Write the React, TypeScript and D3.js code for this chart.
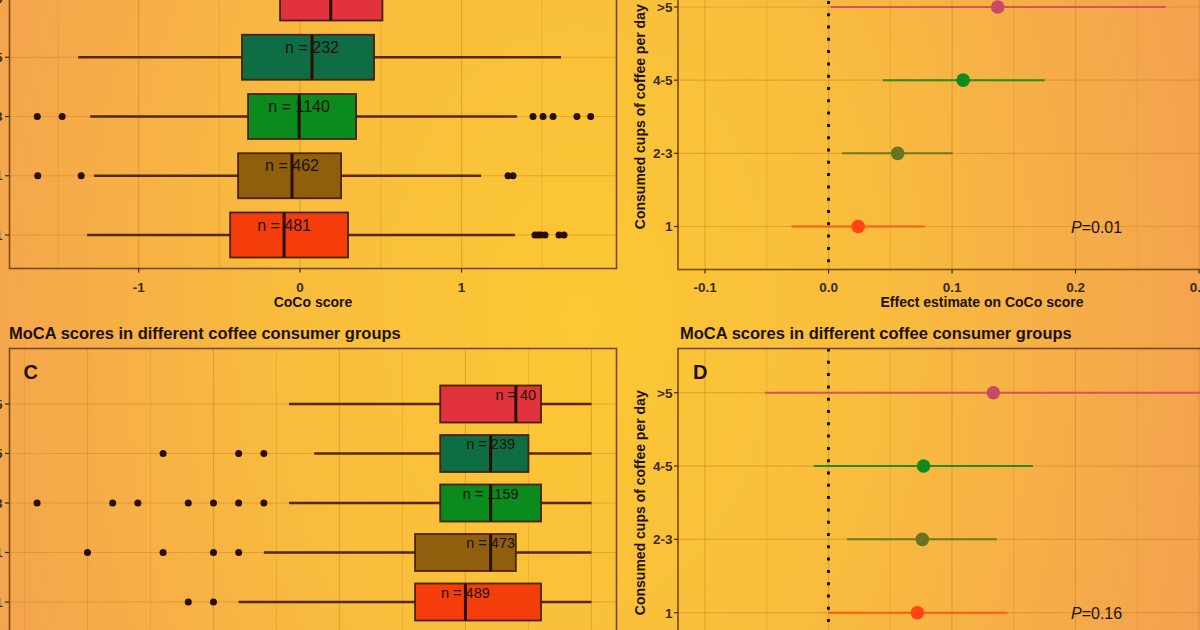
import React from "react";
import * as d3 from "d3";

const W = 1200;
const H = 630;

// ---------- Box plot data (panels A and C) ----------
const boxCategories = [">5", "4-5", "2-3", "1", "<1"];

const cocoN = [40, 232, 1140, 462, 481];
const cocoQ1 = [-0.124, -0.36, -0.322, -0.384, -0.433];
const cocoMedian = [0.19, 0.074, -0.006, -0.05, -0.099];
const cocoQ3 = [0.51, 0.458, 0.347, 0.254, 0.297];
const cocoWhiskerLo = [-1.1, -1.375, -1.3, -1.276, -1.319];
const cocoWhiskerHi = [1.4, 1.616, 1.344, 1.121, 1.331];
const cocoOutliers = [
  [],
  [],
  [-1.628, -1.474, 1.443, 1.505, 1.567, 1.715, 1.8],
  [-1.625, -1.356, 1.288, 1.319],
  [1.455, 1.474, 1.492, 1.517, 1.604, 1.635],
];
const cocoTicks = [-1, 0, 1];

const mocaN = [40, 239, 1159, 473, 489];
const mocaQ1 = [24, 24, 24, 23, 23];
const mocaMedian = [27, 26, 26, 26, 25];
const mocaQ3 = [28, 27.5, 28, 27, 28];
const mocaWhiskerLo = [18, 19, 18, 17, 16];
const mocaWhiskerHi = [30, 30, 30, 30, 30];
const mocaOutliers = [
  [],
  [13, 16, 17],
  [8, 11, 12, 14, 15, 16, 17],
  [10, 13, 15, 16],
  [14, 15],
];
const mocaTicks = [10, 15, 20, 25, 30];

const boxFills = ["#e2323e", "#0f6d45", "#0b8a1d", "#8f5f0e", "#f43d0a"];

// ---------- Forest plot data (panels B and D) ----------
const forestCategories = [">5", "4-5", "2-3", "1"];

const cocoEffect = [0.137, 0.109, 0.056, 0.024];
const cocoLower = [0.0016, 0.044, 0.011, -0.03];
const cocoUpper = [0.273, 0.175, 0.1005, 0.078];
const cocoEffectTicks = [-0.1, 0, 0.1, 0.2, 0.3];
const cocoP = "0.01";

const mocaEffect = [0.267, 0.154, 0.152, 0.144];
const mocaLower = [-0.103, -0.024, 0.03, 0.0];
const mocaUpper = [0.7, 0.331, 0.273, 0.29];
const mocaEffectTicks = [-0.2, 0, 0.2, 0.4, 0.6];
const mocaP = "0.16";

const pointColors = ["#c94868", "#0d8c1c", "#6a7322", "#ff4512"];
const lineColors = ["#d4545c", "#2a8c1e", "#6e7a22", "#ff5a14"];

const FONT = "'Liberation Sans', Arial, Helvetica, sans-serif";
const GRID = "#c98a20";
const BORDER = "#7a4a10";
const AXIS_TEXT = "#3a2c14";
const DARK = "#1c1208";

const hyphen = (s: string) => s.replace("\u2212", "-");

function minorOf(major: number[], domain: number[]) {
  const step = major[1] - major[0];
  const out: number[] = [];
  const lo = Math.min(domain[0], domain[1]);
  const hi = Math.max(domain[0], domain[1]);
  for (let v = major[0] - step / 2; v <= hi; v += step) {
    if (v >= lo) out.push(v);
  }
  return out;
}

type BoxProps = {
  x: d3.ScaleLinear<number, number>;
  y: d3.ScalePoint<string>;
  rect: [number, number, number, number];
  q1: number[];
  med: number[];
  q3: number[];
  lo: number[];
  hi: number[];
  outliers: number[][];
  n: number[];
  ticks: number[];
  halfH: number;
  nSize: number;
  xLabel?: string;
  tag?: string;
};

function BoxPanel(p: BoxProps) {
  const [x0, y0, x1, y1] = p.rect;
  const minor = minorOf(p.ticks, p.x.domain());
  const fmt = d3.format("d");
  return (
    <g>
      {minor.map((v, i) => (
        <line key={"mn" + i} x1={p.x(v)} x2={p.x(v)} y1={y0} y2={y1} stroke={GRID} strokeOpacity={0.3} strokeWidth={1} />
      ))}
      {p.ticks.map((v, i) => (
        <line key={"mj" + i} x1={p.x(v)} x2={p.x(v)} y1={y0} y2={y1} stroke={GRID} strokeOpacity={0.5} strokeWidth={1.2} />
      ))}
      {boxCategories.map((c, i) => (
        <line key={"hg" + i} x1={x0} x2={x1} y1={p.y(c)} y2={p.y(c)} stroke={GRID} strokeOpacity={0.5} strokeWidth={1.2} />
      ))}
      {boxCategories.map((c, i) => {
        const cy = p.y(c) as number;
        return (
          <g key={"b" + i}>
            <line x1={p.x(p.lo[i])} x2={p.x(p.hi[i])} y1={cy} y2={cy} stroke="#552600" strokeWidth={2.4} />
            <rect
              x={p.x(p.q1[i])}
              y={cy - p.halfH}
              width={p.x(p.q3[i]) - p.x(p.q1[i])}
              height={p.halfH * 2}
              fill={boxFills[i]}
              stroke="#4a2200"
              strokeWidth={1.8}
            />
            <line x1={p.x(p.med[i])} x2={p.x(p.med[i])} y1={cy - p.halfH} y2={cy + p.halfH} stroke="#2a0e00" strokeWidth={3} />
            {p.outliers[i].map((o, j) => (
              <circle key={j} cx={p.x(o)} cy={cy} r={3.5} fill="#2a0c00" />
            ))}
            <text
              x={p.x(p.med[i])}
              y={cy - 4.5}
              textAnchor="middle"
              fontFamily={FONT}
              fontSize={p.nSize}
              fill={DARK}
            >
              {"n = " + p.n[i]}
            </text>
          </g>
        );
      })}
      <rect x={x0} y={y0} width={x1 - x0} height={y1 - y0} fill="none" stroke={BORDER} strokeWidth={1.6} />
      {boxCategories.map((c, i) => (
        <g key={"yt" + i}>
          <line x1={x0 - 4.5} x2={x0} y1={p.y(c)} y2={p.y(c)} stroke={AXIS_TEXT} strokeWidth={1.2} />
          <text x={x0 - 7} y={(p.y(c) as number) + 4.5} textAnchor="end" fontFamily={FONT} fontWeight="bold" fontSize={13.5} fill={AXIS_TEXT}>
            {c}
          </text>
        </g>
      ))}
      {p.ticks.map((v, i) => (
        <g key={"xt" + i}>
          <line x1={p.x(v)} x2={p.x(v)} y1={y1} y2={y1 + 4} stroke={AXIS_TEXT} strokeWidth={1.2} />
          <text x={p.x(v)} y={y1 + 23} textAnchor="middle" fontFamily={FONT} fontWeight="bold" fontSize={13.5} fill={AXIS_TEXT}>
            {hyphen(fmt(v))}
          </text>
        </g>
      ))}
      {p.xLabel && (
        <text x={(x0 + x1) / 2} y={y1 + 38.5} textAnchor="middle" fontFamily={FONT} fontWeight="bold" fontSize={14} fill={DARK}>
          {p.xLabel}
        </text>
      )}
      {p.tag && (
        <text x={x0 + 14} y={y0 + 30} fontFamily={FONT} fontWeight="bold" fontSize={20} fill={DARK}>
          {p.tag}
        </text>
      )}
    </g>
  );
}

type ForestProps = {
  x: d3.ScaleLinear<number, number>;
  y: d3.ScalePoint<string>;
  rect: [number, number, number, number];
  est: number[];
  lo: number[];
  hi: number[];
  ticks: number[];
  pval: string;
  xLabel?: string;
  tag?: string;
};

function ForestPanel(p: ForestProps) {
  const [x0, y0, x1, y1] = p.rect;
  const minor = minorOf(p.ticks, p.x.domain());
  const fmt = d3.format(".1f");
  const lastY = p.y(forestCategories[forestCategories.length - 1]) as number;
  return (
    <g>
      {minor.map((v, i) => (
        <line key={"mn" + i} x1={p.x(v)} x2={p.x(v)} y1={y0} y2={y1} stroke={GRID} strokeOpacity={0.3} strokeWidth={1} />
      ))}
      {p.ticks.map((v, i) => (
        <line key={"mj" + i} x1={p.x(v)} x2={p.x(v)} y1={y0} y2={y1} stroke={GRID} strokeOpacity={0.5} strokeWidth={1.2} />
      ))}
      {forestCategories.map((c, i) => (
        <line key={"hg" + i} x1={x0} x2={x1} y1={p.y(c)} y2={p.y(c)} stroke={GRID} strokeOpacity={0.5} strokeWidth={1.2} />
      ))}
      <line x1={p.x(0)} x2={p.x(0)} y1={y0} y2={y1} stroke="#1a1000" strokeWidth={3} strokeDasharray="3 9.3" />
      {forestCategories.map((c, i) => {
        const cy = p.y(c) as number;
        return (
          <g key={"f" + i}>
            <line x1={p.x(p.lo[i])} x2={p.x(p.hi[i])} y1={cy} y2={cy} stroke={lineColors[i]} strokeWidth={2} />
            <circle cx={p.x(p.est[i])} cy={cy} r={6.8} fill={pointColors[i]} />
          </g>
        );
      })}
      <text x={1071} y={lastY + 6} fontFamily={FONT} fontSize={16} fill={DARK}>
        <tspan fontStyle="italic">P</tspan>
        {"=" + p.pval}
      </text>
      <rect x={x0} y={y0} width={x1 - x0} height={y1 - y0} fill="none" stroke={BORDER} strokeWidth={1.6} />
      {forestCategories.map((c, i) => (
        <g key={"yt" + i}>
          <line x1={x0 - 4} x2={x0} y1={p.y(c)} y2={p.y(c)} stroke={AXIS_TEXT} strokeWidth={1.2} />
          <text x={x0 - 5.5} y={(p.y(c) as number) + 4.8} textAnchor="end" fontFamily={FONT} fontWeight="bold" fontSize={13.5} fill={AXIS_TEXT}>
            {c}
          </text>
        </g>
      ))}
      <text
        transform={`translate(${x0 - 38},${(y0 + y1) / 2}) rotate(-90)`}
        textAnchor="middle"
        dominantBaseline="central"
        fontFamily={FONT}
        fontWeight="bold"
        fontSize={14}
        fill={DARK}
      >
        Consumed cups of coffee per day
      </text>
      {p.ticks.map((v, i) => (
        <g key={"xt" + i}>
          <line x1={p.x(v)} x2={p.x(v)} y1={y1} y2={y1 + 4} stroke={AXIS_TEXT} strokeWidth={1.2} />
          <text x={p.x(v)} y={y1 + 22.5} textAnchor="middle" fontFamily={FONT} fontWeight="bold" fontSize={13.5} fill={AXIS_TEXT}>
            {hyphen(fmt(v))}
          </text>
        </g>
      ))}
      {p.xLabel && (
        <text x={(x0 + x1) / 2} y={y1 + 37.5} textAnchor="middle" fontFamily={FONT} fontWeight="bold" fontSize={14} fill={DARK}>
          {p.xLabel}
        </text>
      )}
      {p.tag && (
        <text x={x0 + 15} y={y0 + 30} fontFamily={FONT} fontWeight="bold" fontSize={20} fill={DARK}>
          {p.tag}
        </text>
      )}
    </g>
  );
}

export default function App() {
  // Panel A
  const ax = d3.scaleLinear().domain([-1.8, 1.96]).range([9.5, 616.5]);
  const ay = d3.scalePoint<string>().domain(boxCategories).range([-2, 235]);
  // Panel C
  const cx = d3.scaleLinear().domain([6.905, 30.995]).range([9.5, 616.5]);
  const cy = d3.scalePoint<string>().domain(boxCategories).range([404, 602]);
  // Panel B
  const bx = d3.scaleLinear().domain([-0.1219, 0.3704]).range([678, 1286]);
  const by = d3.scalePoint<string>().domain(forestCategories).range([7, 226.5]);
  // Panel D
  const dx = d3.scaleLinear().domain([-0.2437, 0.741]).range([678, 1286]);
  const dy = d3.scalePoint<string>().domain(forestCategories).range([392.7, 612.7]);

  const title = "MoCA scores in different coffee consumer groups";

  return (
    <svg
      width={W}
      height={H}
      viewBox={`0 0 ${W} ${H}`}
      style={{ position: "absolute", left: 0, top: 0, display: "block" }}
    >
      <defs>
        <radialGradient
          id="bg"
          gradientUnits="userSpaceOnUse"
          cx={580}
          cy={320}
          r={640}
          gradientTransform="translate(580 320) scale(1 1.5) translate(-580 -320)"
        >
          <stop offset="0" stopColor="#fcc833" />
          <stop offset="0.45" stopColor="#f9bd3d" />
          <stop offset="1" stopColor="#f4a24f" />
        </radialGradient>
      </defs>
      <rect x={0} y={0} width={W} height={H} fill="url(#bg)" />

      <BoxPanel
        x={ax}
        y={ay}
        rect={[9.5, -80, 616.5, 268.5]}
        q1={cocoQ1}
        med={cocoMedian}
        q3={cocoQ3}
        lo={cocoWhiskerLo}
        hi={cocoWhiskerHi}
        outliers={cocoOutliers}
        n={cocoN}
        ticks={cocoTicks}
        halfH={22.5}
        nSize={16}
        xLabel="CoCo score"
      />
      <ForestPanel
        x={bx}
        y={by}
        rect={[678, -36, 1286, 269.5]}
        est={cocoEffect}
        lo={cocoLower}
        hi={cocoUpper}
        ticks={cocoEffectTicks}
        pval={cocoP}
        xLabel="Effect estimate on CoCo score"
      />

      <text x={9} y={339} fontFamily={FONT} fontWeight="bold" fontSize={16.5} fill={DARK}>
        {title}
      </text>
      <text x={680} y={339} fontFamily={FONT} fontWeight="bold" fontSize={16.5} fill={DARK}>
        {title}
      </text>

      <BoxPanel
        x={cx}
        y={cy}
        rect={[9.5, 348.5, 616.5, 650]}
        q1={mocaQ1}
        med={mocaMedian}
        q3={mocaQ3}
        lo={mocaWhiskerLo}
        hi={mocaWhiskerHi}
        outliers={mocaOutliers}
        n={mocaN}
        ticks={mocaTicks}
        halfH={18.5}
        nSize={14.5}
        tag="C"
      />
      <ForestPanel
        x={dx}
        y={dy}
        rect={[678, 348.5, 1286, 657]}
        est={mocaEffect}
        lo={mocaLower}
        hi={mocaUpper}
        ticks={mocaEffectTicks}
        pval={mocaP}
        tag="D"
      />
    </svg>
  );
}
